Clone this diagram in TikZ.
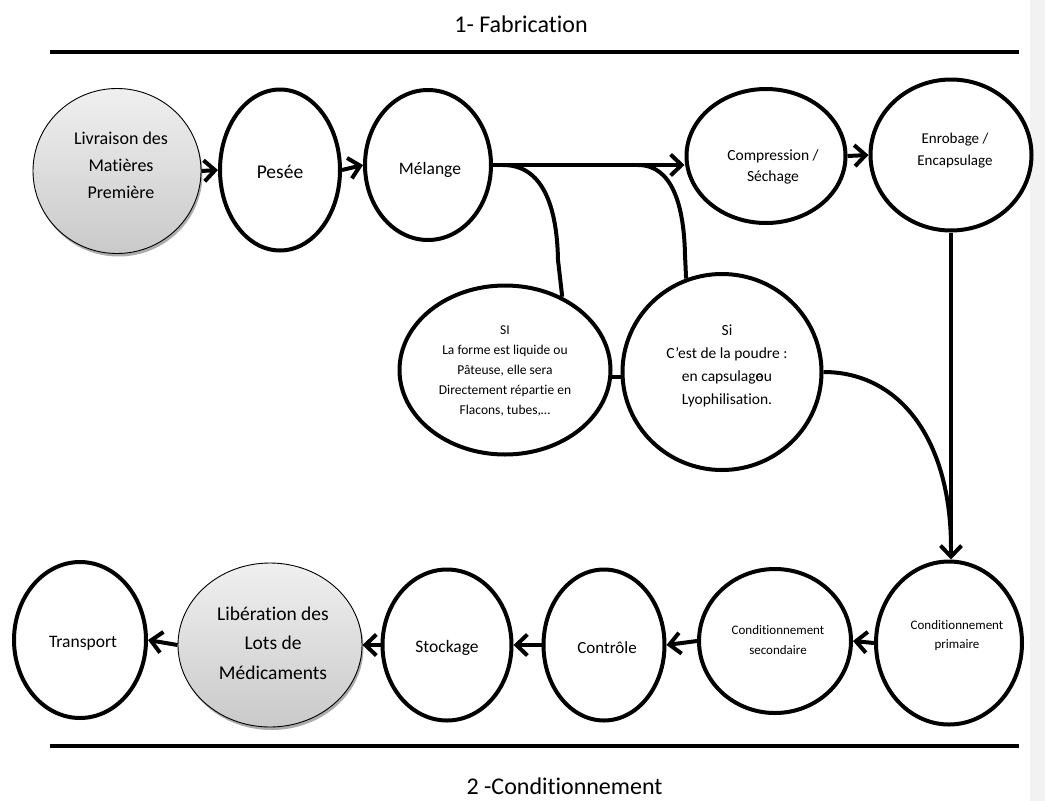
\documentclass[tikz,border=0pt]{standalone}
\usepackage{fontspec}
\setmainfont{Carlito}[Ligatures=NoCommon]
\usetikzlibrary{shapes.geometric,arrows.meta,shadows}
\newcommand\fsz[2]{\fontsize{#1}{#2}\selectfont}
\begin{document}
\begin{tikzpicture}[x=1pt,y=-1pt,
 el/.style={ellipse, draw, line width=4pt, inner sep=0pt},
 gr/.style={ellipse, draw, line width=0.9pt, inner sep=0pt, top color=gray!12, bottom color=gray!42,
   drop shadow={shadow xshift=1.5pt, shadow yshift=-3pt, fill=gray!65, opacity=1}},
 conn/.style={line width=4pt},
 arr/.style={conn, -{Straight Barb[length=11pt,width=21pt]}},
 txt/.style={align=center, inner sep=0pt},
 rule/.style={line width=4.5pt}
]
\useasboundingbox (0,0) rectangle (1045,801);
\fill[gray!10] (1030,0) rectangle (1045,801);

% titles and rules
\node[anchor=base, font=\fsz{24}{29}] (t1) at (521,32) {1- Fabrication};
\draw[rule] (50,52) -- (1019,52);
\draw[rule] (50,746) -- (1019,746);
\node[anchor=base west, font=\fsz{24}{29}] (t2) at (463,794) {2 -Conditionnement};

% top row
\node[gr, minimum width=168pt, minimum height=165pt] (liv) at (117,171) {};
\node[el, minimum width=120pt, minimum height=161pt] (pes) at (280,170) {};
\node[el, minimum width=126pt, minimum height=150pt] (mel) at (428,165) {};
\node[el, minimum width=159pt, minimum height=134pt] (comp) at (766,156) {};
\node[el, minimum width=161pt, minimum height=151pt] (enr) at (951,155) {};

% middle
\node[el, minimum width=211pt, minimum height=169pt] (si) at (505,370) {};
\node[el, minimum width=199pt, minimum height=196pt] (si2) at (722,372) {};

% bottom row
\node[el, minimum width=132pt, minimum height=156pt] (tra) at (80,640) {};
\node[gr, minimum width=184pt, minimum height=164pt] (lib) at (270,645) {};
\node[el, minimum width=129pt, minimum height=151pt] (sto) at (447,645) {};
\node[el, minimum width=121pt, minimum height=151pt] (ctl) at (604,645) {};
\node[el, minimum width=152pt, minimum height=144pt] (sec) at (775,641) {};
\node[el, minimum width=146pt, minimum height=163pt] (pri) at (949,643) {};

% texts
\node[txt, font=\fsz{18}{27}] (livt) at (121,165) {Livraison des\\Matières\\Première};
\node[txt, font=\fsz{19.5}{24}] (pest) at (280,172) {Pesée};
\node[txt, font=\fsz{17.5}{21}] (melt) at (430,170) {Mélange};
\node[txt, font=\fsz{15.5}{21}] (compt) at (773,167) {Compression /\\Séchage};
\node[txt, font=\fsz{15}{22}] (enrt) at (955,151) {Enrobage /\\Encapsulage};
\node[txt, font=\fsz{13.5}{20}] (sit) at (505,371) {SI\\La forme est liquide ou\\Pâteuse, elle sera\\Directement répartie en\\Flacons, tubes,…};
\node[txt, font=\fsz{15.5}{23}] (si2t) at (727,366) {Si\\C’est de la poudre :\\en capsulag\rlap{e}ou\\Lyophilisation.};
\node[txt, font=\fsz{17.5}{21}] (trat) at (83,643) {Transport};
\node[txt, font=\fsz{19.5}{29.5}] (libt) at (273,643) {Libération des\\Lots de\\Médicaments};
\node[txt, font=\fsz{17.5}{21}] (stot) at (447,648) {Stockage};
\node[txt, font=\fsz{17}{21}] (ctlt) at (607,648) {Contrôle};
\node[txt, font=\fsz{13}{20}] (sect) at (778,640) {Conditionnement\\secondaire};
\node[txt, font=\fsz{13}{19}] (prit) at (957,636) {Conditionnement\\primaire};

% connectors top
\draw[arr] (liv.east) -- (pes.west);
\draw[arr] (pes.east) -- (mel.west);
\draw[arr] (mel.east) -- (mel.east -| comp.west);
\draw[arr] (comp.east) -- (enr.west);
\coordinate (b1) at (503,165);
\coordinate (b2) at (638,165);
\draw[conn] (b1) .. controls (542,165) and (557,205) .. (558,260) -- (si.52.7);
\draw[conn] (b2) .. controls (672,165) and (684,205) .. (685,255) -- (si2.111.5);
\draw[conn] (si.-4) -- (si.-4 -| si2.west);
\draw[arr] (enr.south) -- (enr.south |- pri.north);
\draw[conn] (si2.east) .. controls (900,372) and (951,440) .. (951,548);

% connectors bottom
\draw[arr] (pri.west) -- (sec.east);
\draw[arr] (sec.west) -- (ctl.east);
\draw[arr] (ctl.west) -- (sto.east);
\draw[arr] (sto.west) -- (lib.east);
\draw[arr] (lib.west) -- (tra.east);
\end{tikzpicture}
\end{document}
